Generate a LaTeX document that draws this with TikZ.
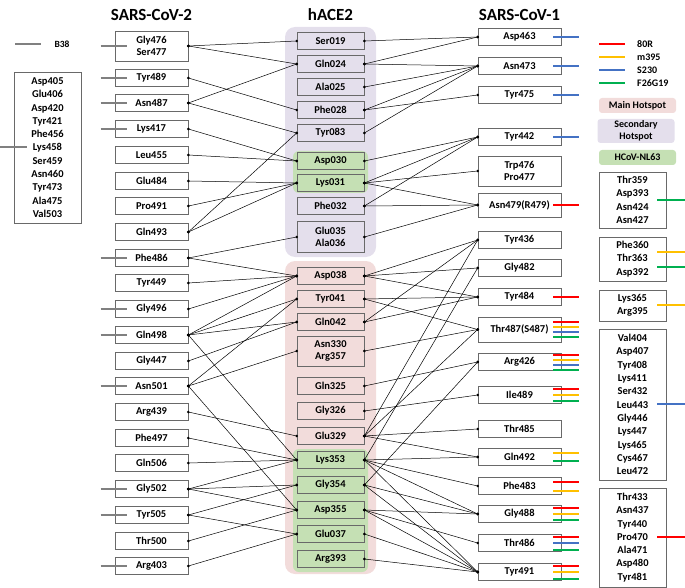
\documentclass[tikz,border=0pt]{standalone}
\usepackage{fontspec}
\setmainfont{Carlito}
\definecolor{hotmain}{RGB}{242,220,219}
\definecolor{hotsec}{RGB}{228,223,236}
\definecolor{nlgreen}{RGB}{197,224,180}
\definecolor{abred}{RGB}{255,0,0}
\definecolor{abyellow}{RGB}{255,192,0}
\definecolor{abblue}{RGB}{68,114,196}
\definecolor{abgreen}{RGB}{0,176,80}
\definecolor{boxline}{RGB}{105,105,105}
\definecolor{tickgray}{RGB}{128,128,128}

\begin{document}
\begin{tikzpicture}[x=1pt, y=-1pt,
    res/.style={draw=boxline, line width=0.7pt, minimum width=#1, minimum height=17,
        inner sep=1pt, align=center, font=\bfseries\fontsize{10.5}{12.5}\selectfont},
    res/.default=73,
    grp/.style={draw=boxline, line width=0.7pt, minimum width=67, inner sep=2pt,
        align=center, font=\bfseries\fontsize{10.5}{13.3}\selectfont},
    key/.style={rounded corners=3, minimum width=77, minimum height=15, inner sep=1pt,
        align=center, font=\bfseries\fontsize{10}{12}\selectfont},
    title/.style={font=\bfseries\fontsize{17}{20}\selectfont},
    link/.style={line width=0.5pt},
    bar/.style={line width=2pt, draw=#1},
    tick/.style={line width=2pt, draw=tickgray}]
    \useasboundingbox (0,0) rectangle (685,588);

    % hotspot backgrounds
    \fill[hotsec, rounded corners=10] (285,27) rectangle (376,257);
    \fill[hotmain, rounded corners=10] (285,261) rectangle (376,574);
    \fill[nlgreen, rounded corners=6] (293,151) rectangle (368,193);
    \fill[nlgreen, rounded corners=6] (293,449) rectangle (368,572);

    \node[title] (t-cov2) at (151.5,15) {SARS-CoV-2};
    \node[title] (t-ace) at (330.5,15) {hACE2};
    \node[title] (t-cov1) at (519.5,15) {SARS-CoV-1};

    % SARS-CoV-2 residues
    \node[res, minimum height=30] (s2-Gly476) at (151.5,46) {Gly476\\Ser477};
    \foreach \n/\y in {Tyr489/78, Asn487/103, Lys417/129, Leu455/155, Glu484/181,
        Pro491/206, Gln493/232, Phe486/258, Tyr449/283, Gly496/309, Gln498/335,
        Gly447/361, Asn501/386, Arg439/412, Phe497/438, Gln506/463, Gly502/489,
        Tyr505/515, Thr500/541, Arg403/566}
        \node[res] (s2-\n) at (151.5,\y) {\n};
    \node[grp, minimum height=151] (s2-core) at (47.5,147.5)
        {Asp405\\Glu406\\Asp420\\Tyr421\\Phe456\\Lys458\\Ser459\\Asn460\\Tyr473\\Ala475\\Val503};

    % hACE2 residues
    \foreach \n/\y in {Ser019/41, Gln024/64, Ala025/87, Phe028/110, Tyr083/133,
        Asp030/161, Lys031/183, Phe032/206, Asp038/276, Tyr041/299, Gln042/322,
        Gln325/386, Gly326/411, Glu329/436, Lys353/460, Gly354/485, Asp355/510,
        Glu037/534, Arg393/559}
        \node[res=67] (ace-\n) at (330.5,\y) {\n};
    \node[res=67, minimum height=31] (ace-Glu035) at (330.5,237) {Glu035\\Ala036};
    \node[res=67, minimum height=30] (ace-Asn330) at (330.5,351) {Asn330\\Arg357};

    % SARS-CoV-1 residues
    \foreach \n/\y in {Asp463/37, Asn473/66, Tyr475/95, Tyr442/137, Tyr436/240,
        Gly482/268, Tyr484/297, Arg426/362, Ile489/395, Thr485/429, Gln492/457,
        Phe483/486, Gly488/514, Thr486/543, Tyr491/572}
        \node[res=83, fill=white] (s1-\n) at (519.5,\y) {\n};
    \node[res=83, minimum height=30] (s1-Trp476) at (519.5,171) {Trp476\\Pro477};
    \node[res=83, minimum height=24] (s1-Asn479) at (519.5,205) {Asn479(R479)};
    \node[res=83, minimum height=25] (s1-Thr487) at (519.5,329.5) {Thr487(S487)};

    \node[grp, minimum height=56] (s1-g1) at (632.5,200) {Thr359\\Asp393\\Asn424\\Asn427};
    \node[grp, minimum height=44] (s1-g2) at (632.5,259) {Phe360\\Thr363\\Asp392};
    \node[grp, minimum height=31] (s1-g3) at (632.5,305.5) {Lys365\\Arg395};
    \node[grp, minimum height=151] (s1-g4) at (632.5,404.5)
        {Val404\\Asp407\\Tyr408\\Lys411\\Ser432\\Leu443\\Gly446\\Lys447\\Lys465\\Cys467\\Leu472};
    \node[grp, minimum height=99] (s1-g5) at (632.5,537.5)
        {Thr433\\Asn437\\Tyr440\\Pro470\\Ala471\\Asp480\\Tyr481};

    % legend
    \foreach \c/\t/\y in {abred/80R/44, abyellow/m395/57, abblue/S230/70, abgreen/F26G19/83} {
        \draw[bar=\c] (599,\y) -- (625,\y);
        \node[anchor=west, inner sep=0, font=\bfseries\fontsize{10}{12}\selectfont] (lg-\t) at (637,\y) {\t};
    }
    \node[key, fill=hotmain] (lg-main) at (637.5,105.5) {Main Hotspot};
    \node[key, fill=hotsec, minimum height=24] (lg-sec) at (636,131) {Secondary\\Hotspot};
    \node[key, fill=nlgreen] (lg-nl) at (637.5,157.5) {HCoV-NL63};

    % B38 contacts
    \draw[tick] (15,44) -- (41,44);
    \node[font=\bfseries\fontsize{9.5}{11}\selectfont] (lg-b38) at (62,44) {B38};
    \foreach \n in {Gly476, Tyr489, Asn487, Lys417, Phe486, Gly496, Gln498, Asn501,
        Gly502, Tyr505, Arg403}
        \draw[tick] ([xshift=-14]s2-\n.west) -- ++(26,0);
    \draw[tick] ([xshift=-14]s2-core.west) -- ++(27,0);

    % SARS-CoV-2 -- hACE2
    \foreach \a/\b in {Gly476/Ser019, Gly476/Gln024, Tyr489/Phe028, Asn487/Gln024,
        Asn487/Tyr083, Lys417/Asp030, Leu455/Asp030, Glu484/Lys031, Pro491/Lys031,
        Gln493/Tyr083, Gln493/Lys031, Phe486/Glu035, Phe486/Asp038, Tyr449/Asp038,
        Gly496/Asp038, Gln498/Asp038, Gln498/Tyr041, Gln498/Gln042, Gln498/Lys353,
        Gly447/Gln042, Asn501/Tyr041, Asn501/Asn330, Asn501/Asp355, Arg439/Glu329,
        Phe497/Lys353, Gln506/Lys353, Gly502/Lys353, Gly502/Gly354, Gly502/Asp355,
        Tyr505/Gly354, Tyr505/Glu037, Thr500/Asp355, Arg403/Glu037} {
        \draw[link] (s2-\a.east) -- (ace-\b.west);
        \fill (s2-\a.east) circle (1.4);
        \fill (ace-\b.west) circle (1.4);
    }

    % hACE2 -- SARS-CoV-1
    \foreach \a/\b in {Ser019/Asp463, Gln024/Asp463, Gln024/Asn473, Ala025/Asn473,
        Phe028/Asn473, Phe028/Tyr475, Tyr083/Asn473, Asp030/Tyr442, Lys031/Tyr442,
        Lys031/Trp476, Lys031/Asn479, Phe032/Tyr442, Phe032/Asn479, Glu035/Asn479,
        Asp038/Tyr436, Asp038/Gly482, Asp038/Tyr484, Tyr041/Tyr484, Tyr041/Thr487,
        Gln042/Tyr436, Gln042/Tyr484, Asn330/Thr487, Gln325/Arg426, Gly326/Ile489,
        Glu329/Tyr436, Glu329/Thr487, Glu329/Thr485, Glu329/Gln492, Lys353/Gly482,
        Lys353/Gln492, Lys353/Phe483, Lys353/Gly488, Lys353/Tyr491, Gly354/Arg426,
        Gly354/Gly488, Gly354/Tyr491, Asp355/Gly488, Asp355/Thr486, Asp355/Tyr491,
        Glu037/Tyr491, Arg393/Tyr491} {
        \draw[link] (ace-\a.east) -- (s1-\b.west);
        \fill (ace-\a.east) circle (1.4);
        \fill (s1-\b.west) circle (1.4);
    }

    % antibody contacts on SARS-CoV-1
    \foreach \n/\c/\d in {Asp463/abblue/0, Asn473/abblue/0, Tyr475/abblue/0,
        Tyr442/abblue/0, Asn479/abred/0, Tyr484/abred/0,
        Thr487/abred/-7.5, Thr487/abyellow/-2.5, Thr487/abblue/2.5, Thr487/abgreen/7.5,
        Arg426/abred/-7.5, Arg426/abyellow/-2.5, Arg426/abblue/2.5, Arg426/abgreen/7.5,
        Ile489/abred/-6, Ile489/abyellow/0, Ile489/abgreen/6,
        Gln492/abyellow/-4, Gln492/abgreen/4, Phe483/abred/-4.5, Phe483/abyellow/4.5,
        Gly488/abred/-6, Gly488/abyellow/0, Gly488/abgreen/6,
        Thr486/abred/-6.5, Thr486/abblue/0, Thr486/abgreen/6.5,
        Tyr491/abred/-6.5, Tyr491/abyellow/0, Tyr491/abgreen/6.5}
        \draw[bar=\c] ([xshift=-8]s1-\n.east) ++(0,\d) -- ++(26,0);
    \draw[bar=abgreen] (657,200) -- (685,200);
    \draw[bar=abyellow] (657,252) -- (685,252);
    \draw[bar=abgreen] (657,267) -- (685,267);
    \draw[bar=abyellow] (657,305) -- (685,305);
    \draw[bar=abblue] (657,404) -- (685,404);
    \draw[bar=abred] (657,537) -- (685,537);
\end{tikzpicture}
\end{document}
